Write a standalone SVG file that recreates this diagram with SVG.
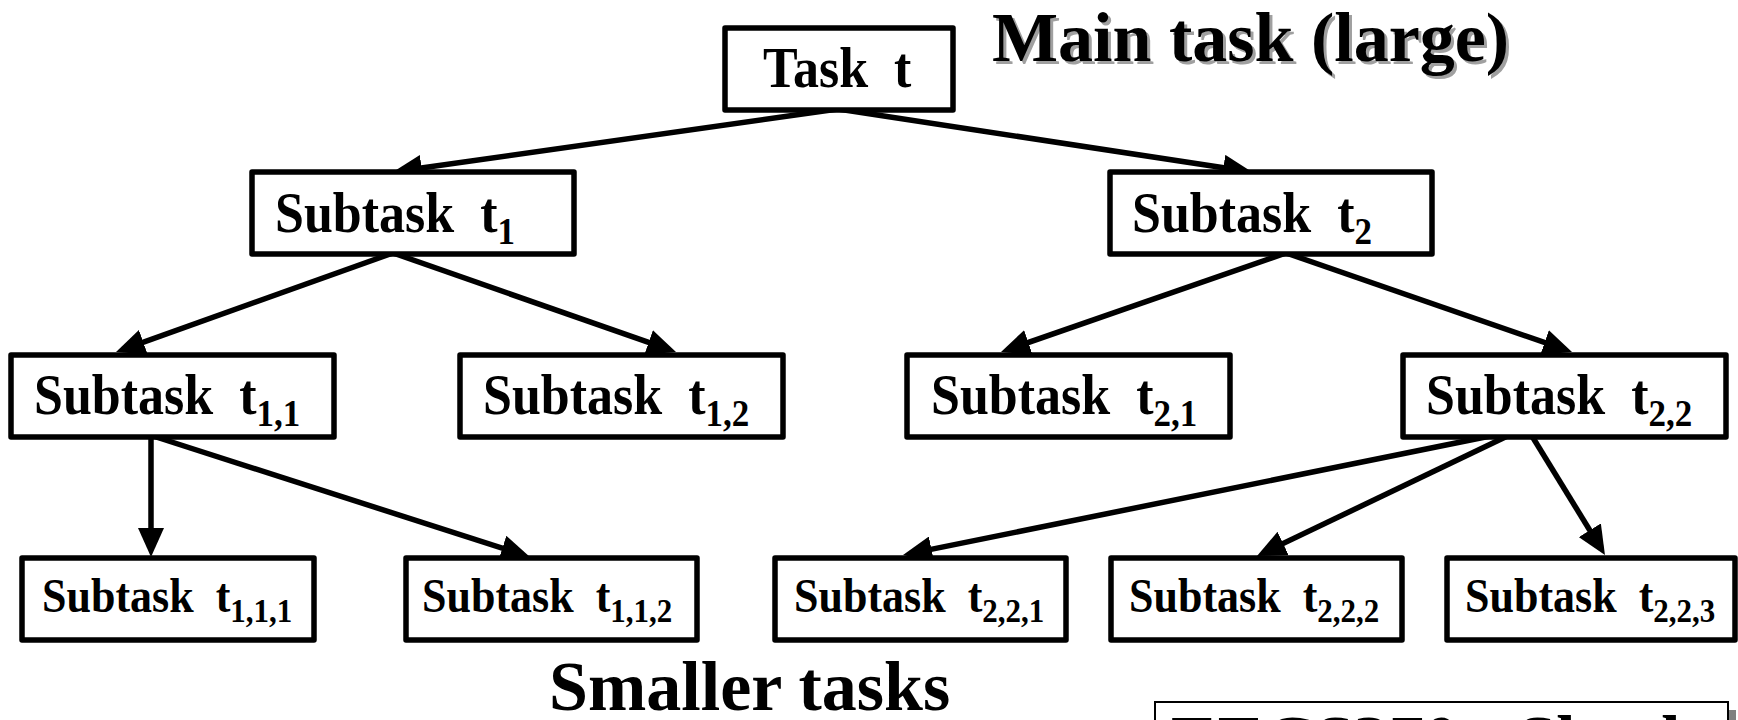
<svg xmlns="http://www.w3.org/2000/svg" width="1738" height="720" viewBox="0 0 1738 720">
  <style>
    .box { fill: #fff; stroke: #000; stroke-width: 5.5; stroke-linejoin: round; }
    .lbl { font-family: "Liberation Serif", "Times New Roman", serif; font-weight: bold; font-size: 52px; fill: #000; }
    .lbl3 { font-family: "Liberation Serif", "Times New Roman", serif; font-weight: bold; font-size: 44px; fill: #000; }
    .sub { font-size: 35px; }
    .sub3 { font-size: 31px; }
    .title { font-family: "Liberation Serif", "Times New Roman", serif; font-weight: bold; font-size: 70px; fill: #000; }
    .shadow { fill: #a0a0a0; }
    .edge { fill: none; stroke: #000; stroke-width: 5.5; marker-end: url(#head); }
  </style>
  <defs>
    <marker id="head" viewBox="0 0 29 26" markerWidth="29" markerHeight="26" refX="22" refY="13" orient="auto" markerUnits="userSpaceOnUse">
      <path d="M0,0 L29,13 L0,26 z" fill="#000"/>
    </marker>
  </defs>

  <rect width="1738" height="720" fill="#fff"/>

  <!-- headings -->
  <g id="heading-main">
    <text class="title shadow" x="995" y="64">Main task (large)</text>
    <text class="title" x="992" y="61">Main task (large)</text>
  </g>
  <g id="heading-small">
    <text class="title" x="549" y="710">Smaller tasks</text>
  </g>

  <!-- connectors (each line stops just short of its tip; the marker completes it) -->
  <g id="connectors">
    <line class="edge" x1="838" y1="109" x2="399.9" y2="171.0"/>
    <line class="edge" x1="838" y1="109" x2="1245.1" y2="171.0"/>
    <line class="edge" x1="393" y1="253" x2="122.6" y2="349.6"/>
    <line class="edge" x1="393" y1="253" x2="669.4" y2="349.7"/>
    <line class="edge" x1="1286" y1="253" x2="1007.6" y2="349.7"/>
    <line class="edge" x1="1286" y1="253" x2="1565.4" y2="349.7"/>
    <line class="edge" x1="151" y1="436" x2="151" y2="550"/>
    <line class="edge" x1="153" y1="436" x2="523.3" y2="554.9"/>
    <line class="edge" x1="1520" y1="430" x2="909.9" y2="553.6"/>
    <line class="edge" x1="1520" y1="430" x2="1263.3" y2="553.0"/>
    <line class="edge" x1="1527" y1="428" x2="1601.3" y2="549.0"/>
  </g>

  <!-- root -->
  <g id="task-t">
    <rect class="box" x="725" y="28" width="228" height="82"/>
    <text class="lbl" transform="translate(763,87) scale(1,1.1)" font-size="55" xml:space="preserve">Task  t</text>
  </g>

  <!-- level 1 -->
  <g id="subtask-t1">
    <rect class="box" x="252" y="172" width="322" height="82"/>
    <text class="lbl" transform="translate(275,232) scale(1,1.1)" xml:space="preserve">Subtask  t<tspan class="sub" dy="11">1</tspan></text>
  </g>
  <g id="subtask-t2">
    <rect class="box" x="1110" y="172" width="322" height="82"/>
    <text class="lbl" transform="translate(1132,232) scale(1,1.1)" xml:space="preserve">Subtask  t<tspan class="sub" dy="11">2</tspan></text>
  </g>

  <!-- level 2 -->
  <g id="subtask-t11">
    <rect class="box" x="11" y="355" width="323" height="82"/>
    <text class="lbl" transform="translate(34,414) scale(1,1.1)" xml:space="preserve">Subtask  t<tspan class="sub" dy="11">1,1</tspan></text>
  </g>
  <g id="subtask-t12">
    <rect class="box" x="460" y="355" width="323" height="82"/>
    <text class="lbl" transform="translate(483,414) scale(1,1.1)" xml:space="preserve">Subtask  t<tspan class="sub" dy="11">1,2</tspan></text>
  </g>
  <g id="subtask-t21">
    <rect class="box" x="907" y="355" width="323" height="82"/>
    <text class="lbl" transform="translate(931,414) scale(1,1.1)" xml:space="preserve">Subtask  t<tspan class="sub" dy="11">2,1</tspan></text>
  </g>
  <g id="subtask-t22">
    <rect class="box" x="1403" y="355" width="323" height="82"/>
    <text class="lbl" transform="translate(1426,414) scale(1,1.1)" xml:space="preserve">Subtask  t<tspan class="sub" dy="11">2,2</tspan></text>
  </g>

  <!-- level 3 -->
  <g id="subtask-t111">
    <rect class="box" x="22" y="558" width="292" height="82"/>
    <text class="lbl3" transform="translate(42,612) scale(1,1.1)" xml:space="preserve">Subtask  t<tspan class="sub3" dy="9">1,1,1</tspan></text>
  </g>
  <g id="subtask-t112">
    <rect class="box" x="406" y="558" width="291" height="82"/>
    <text class="lbl3" transform="translate(422,612) scale(1,1.1)" xml:space="preserve">Subtask  t<tspan class="sub3" dy="9">1,1,2</tspan></text>
  </g>
  <g id="subtask-t221">
    <rect class="box" x="775" y="558" width="291" height="82"/>
    <text class="lbl3" transform="translate(794,612) scale(1,1.1)" xml:space="preserve">Subtask  t<tspan class="sub3" dy="9">2,2,1</tspan></text>
  </g>
  <g id="subtask-t222">
    <rect class="box" x="1111" y="558" width="291" height="82"/>
    <text class="lbl3" transform="translate(1129,612) scale(1,1.1)" xml:space="preserve">Subtask  t<tspan class="sub3" dy="9">2,2,2</tspan></text>
  </g>
  <g id="subtask-t223">
    <rect class="box" x="1447" y="558" width="288" height="82"/>
    <text class="lbl3" transform="translate(1465,612) scale(1,1.1)" xml:space="preserve">Subtask  t<tspan class="sub3" dy="9">2,2,3</tspan></text>
  </g>

  <!-- footer panel, cut by the lower edge -->
  <g id="footer">
    <rect x="1163" y="710" width="573" height="60" fill="#808080"/>
    <rect x="1155" y="702" width="573" height="60" fill="#fff" stroke="#000" stroke-width="2"/>
    <text class="title" x="1171" y="764">EECS370 - Shark</text>
  </g>
</svg>
